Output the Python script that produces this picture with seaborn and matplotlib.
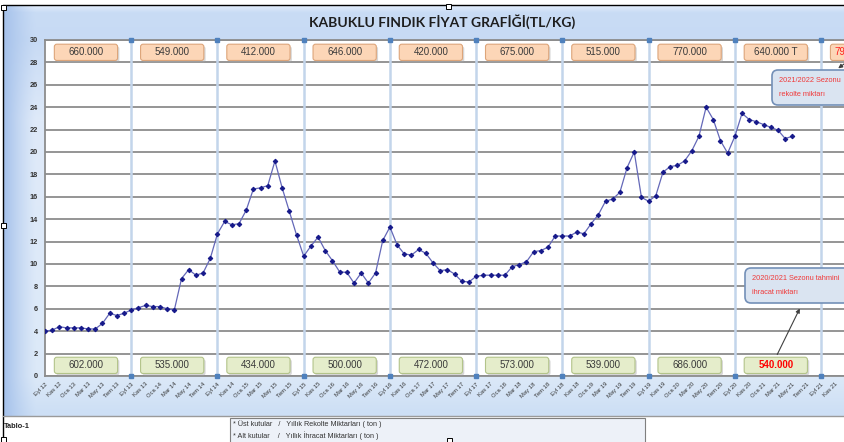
import numpy as np
import pandas as pd
import seaborn as sns
import matplotlib.pyplot as plt
from matplotlib.patches import FancyBboxPatch, Rectangle
from matplotlib.colors import to_rgb

# monthly price, Eyl 12 .. May 21 (TL/kg)
price = [4.0, 4.1, 4.4, 4.3, 4.3, 4.3, 4.2, 4.2, 4.7, 5.6, 5.4, 5.6,
         5.9, 6.1, 6.3, 6.2, 6.2, 6.0, 5.9, 8.7, 9.5, 9.0, 9.2, 10.5,
         12.7, 13.8, 13.5, 13.6, 14.8, 16.7, 16.8, 17.0, 19.2, 16.8, 14.7, 12.6,
         10.7, 11.6, 12.4, 11.2, 10.3, 9.3, 9.25, 8.3, 9.2, 8.3, 9.2, 12.1,
         13.3, 11.7, 10.9, 10.8, 11.3, 10.95, 10.1, 9.4, 9.5, 9.1, 8.45, 8.4,
         8.9, 9.0, 9.0, 9.0, 9.0, 9.75, 9.95, 10.2, 11.1, 11.2, 11.5, 12.5,
         12.5, 12.5, 12.85, 12.7, 13.6, 14.4, 15.6, 15.8, 16.4, 18.6, 20.0, 15.95,
         15.6, 16.1, 18.2, 18.7, 18.8, 19.2, 20.1, 21.4, 24.0, 22.9, 21.0, 19.9,
         21.4, 23.45, 22.9, 22.7, 22.45, 22.2, 21.95, 21.2, 21.4]
month_names = ['Oca', 'Şub', 'Mar', 'Nis', 'May', 'Haz', 'Tem', 'Ağu', 'Eyl', 'Eki', 'Kas', 'Ara']
tick_pos = list(range(0, 112, 2))
tick_labels = ['%s %d' % (month_names[(8 + i) % 12], 12 + (8 + i) // 12) for i in tick_pos]
# last upper box is cut by the picture edge, only "79" shows
rekolte = ['660.000', '549.000', '412.000', '646.000', '420.000', '675.000',
           '515.000', '770.000', '640.000 T', '79']
ihracat = ['602.000', '535.000', '434.000', '500.000', '472.000', '573.000',
           '539.000', '686.000', '540.000']

df = pd.DataFrame({'ay': range(len(price)), 'fiyat': price})

sns.set_theme(style='white')
plt.rcParams['font.family'] = ['Liberation Sans', 'DejaVu Sans']

W, H = 845, 442
fig = plt.figure(figsize=(W / 100, H / 100), dpi=100)
fig.patch.set_facecolor('white')

# background (chart area gradient)
bg = fig.add_axes([0, 0, 1, 1], zorder=0)
bg.set_xlim(0, W); bg.set_ylim(H, 0); bg.axis('off')
stops = [5, 12, 40, 120, 376, 412]
cols = np.array([to_rgb(c) for c in ['#e3edfb', '#c9dcf5', '#c7daf4', '#dfeaf9', '#dce9f8', '#cddff5']])
yy = np.arange(H)
base = np.stack([np.interp(yy, stops, cols[:, k]) for k in range(3)], axis=1)
xx = np.arange(W)
wl = np.clip(1 - (xx - 4) / 32.0, 0, 1) ** 1.3
dark = np.array(to_rgb('#a6c2eb'))
img = base[:, None, :] * (1 - wl[None, :, None]) + dark * wl[None, :, None]
img[:5, :, :] = 1; img[416:, :, :] = 1; img[:, :3, :] = 1
bg.imshow(img, extent=(0, W, H, 0), aspect='auto', interpolation='bilinear')
bg.plot([3, W], [5, 5], color='black', lw=1)
bg.plot([3, 3], [5, H], color='black', lw=1)
bg.plot([3, W], [416, 416], color='#9a9a9a', lw=1)
bg.text(442, 22, 'KABUKLU FINDIK FİYAT GRAFİĞİ(TL/KG)', ha='center', va='center',
        fontsize=10, fontweight='bold', color='#1e1e1e', family=['Lato', 'DejaVu Sans'])

# plot area
pxm = 7.186
ax = fig.add_axes([45 / W, (H - 376) / H, 112 * pxm / W, 336 / H], zorder=1)
ax.set_facecolor('white')
ax.set_xlim(0, 112); ax.set_ylim(0, 30)
ax.set_yticks(range(0, 31, 2))
ax.yaxis.grid(True, color='#8c8c8c', lw=1.3, zorder=0)
ax.xaxis.grid(False)
for s in ['left', 'bottom', 'top']:
    ax.spines[s].set_color('#8c8c8c'); ax.spines[s].set_linewidth(1.3)
ax.spines['right'].set_visible(False)

seasons = list(range(12, 112, 12))
ax.vlines(seasons, 0, 30, color='#c3d5eb', lw=1.8, zorder=1)
ax.plot(seasons, [30] * len(seasons), 's', ms=3, color='#4f81bd', clip_on=False, zorder=3)
ax.plot(seasons, [0] * len(seasons), 's', ms=3, color='#4f81bd', clip_on=False, zorder=3)

sns.lineplot(data=df, x='ay', y='fiyat', ax=ax, color='#6468b8', lw=0.9,
             marker='D', markersize=2.3, markerfacecolor='#16198a',
             markeredgecolor='#16198a', zorder=4)
ax.set_xlabel(''); ax.set_ylabel('')

ax.set_xticks(tick_pos)
ax.set_xticklabels(tick_labels, rotation=45, ha='right', rotation_mode='anchor',
                   fontsize=4.2, color='#333333')
ax.tick_params(axis='x', length=2, color='#8c8c8c', pad=2)
ax.tick_params(axis='y', length=0, pad=5, labelsize=5.3, labelcolor='#333333')
for t in ax.get_yticklabels():
    t.set_fontweight('bold')


def box(cx, cy, txt, fc, ec, tc, bold=False, left=False):
    w, h = 8.8, 1.45
    ax.add_patch(FancyBboxPatch((cx - w / 2 + 0.25, cy - h / 2 - 0.18), w, h,
                                boxstyle='round,pad=0,rounding_size=0.35', mutation_aspect=0.64,
                                fc='#a8a8a8', ec='none', alpha=0.45, zorder=5))
    ax.add_patch(FancyBboxPatch((cx - w / 2, cy - h / 2), w, h,
                                boxstyle='round,pad=0,rounding_size=0.35', mutation_aspect=0.64,
                                fc=fc, ec=ec, lw=0.8, zorder=6))
    ax.text(cx - w / 2 + 0.6 if left else cx, cy, txt, ha='left' if left else 'center',
            va='center', fontsize=7, color=tc, zorder=7,
            fontweight='bold' if bold else 'normal')


for k, t in enumerate(rekolte):
    last = k == len(rekolte) - 1
    box(12 * k + 5.7, 28.9, t, '#fcd6b7', '#dda57a', '#ff2020' if last else '#3a3a3a', left=last)
for k, t in enumerate(ihracat):
    last = k == len(ihracat) - 1
    box(12 * k + 5.7, 0.95, t, '#e5edcb', '#b3c48a', '#ff0000' if last else '#3a3a3a', bold=last)

# overlay: callouts, legend box, handles
ov = fig.add_axes([0, 0, 1, 1], zorder=3)
ov.set_xlim(0, W); ov.set_ylim(H, 0); ov.axis('off'); ov.patch.set_alpha(0)
for (x0, y0, l1, l2) in [(772, 70, '2021/2022 Sezonu', 'rekolte miktarı'),
                         (745, 268, '2020/2021 Sezonu tahmini', 'ihracat miktarı')]:
    ov.add_patch(FancyBboxPatch((x0, y0), 160, 35, boxstyle='round,pad=0,rounding_size=6',
                                fc='#dae4f1', ec='#7390b8', lw=1.2))
    ov.text(x0 + 7, y0 + 11, l1, fontsize=5.3, color='#f03a3a', va='center')
    ov.text(x0 + 7, y0 + 24, l2, fontsize=5.3, color='#f03a3a', va='center')
ov.annotate('', xy=(801, 306), xytext=(776, 357),
            arrowprops=dict(arrowstyle='-|>', color='#404040', lw=0.8, mutation_scale=6))
ov.annotate('', xy=(836, 70), xytext=(848, 61),
            arrowprops=dict(arrowstyle='-|>', color='#404040', lw=0.8, mutation_scale=6))

ov.add_patch(Rectangle((230, 418), 415, 30, fc='#edf1f8', ec='#7f7f7f', lw=0.8))
ov.text(233, 424, '* Üst kutular   /   Yıllık Rekolte Miktarları ( ton )', fontsize=5.2,
        color='#333333', va='center')
ov.text(233, 436, '* Alt kutular    /   Yıllık İhracat Miktarları ( ton )', fontsize=5.2,
        color='#333333', va='center')
ov.text(4, 426, 'Tablo-1', fontsize=5.3, color='#222222', va='center', fontweight='bold')

for (hx, hy) in [(4, 7), (449, 6), (4, 225), (4, 439), (450, 440)]:
    ov.add_patch(Rectangle((hx - 2.5, hy - 2.5), 5, 5, fc='white', ec='black', lw=0.7))

fig.savefig('out.png', dpi=100)
